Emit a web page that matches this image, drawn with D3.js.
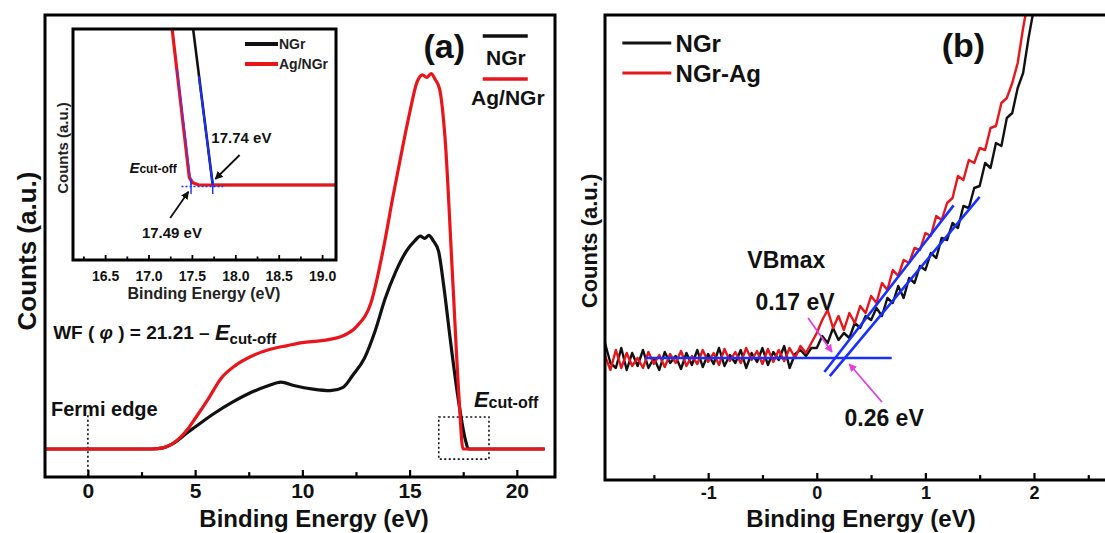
<!DOCTYPE html>
<html>
<head>
<meta charset="utf-8">
<script src="https://cdn.jsdelivr.net/npm/d3@7"></script>
<style>
  body { margin: 0; background: #fff; }
  svg { display: block; font-family: "Liberation Sans", Arial, sans-serif; font-weight: bold; }
</style>
</head>
<body>
<svg id="chart" width="1105" height="533"></svg>
<script>
// ---------- (a) full UPS spectra ----------
const agEnergy = [-2, 3, 3.5, 3.9, 4.3, 4.6, 5, 5.6, 6.2, 6.9, 7.6, 8.5, 9.3, 10, 10.9, 11.9, 12.5, 13.2, 13.85, 14.2,
  14.7, 15, 15.35, 15.6, 15.8, 16, 16.2, 16.4, 16.65, 17, 17.3, 17.49, 21.3];
const agCounts = [0, 0, 0.03, 0.125, 0.3, 0.49, 0.81, 1.32, 1.87, 2.23, 2.46, 2.65, 2.75, 2.83, 2.88, 3.01, 3.24, 3.89, 5.54, 6.64,
  8.10, 8.93, 9.76, 9.95, 9.88, 9.98, 9.82, 9.57, 8.29, 4.62, 1.41, 0, 0];
const ngrEnergy = [-2, 3, 3.5, 3.9, 4.3, 4.6, 5, 5.9, 6.7, 7.6, 8.4, 9, 9.65, 10.5, 11.3, 11.9, 12.35, 12.9, 13.4, 13.85,
  14.35, 14.85, 15.25, 15.5, 15.7, 15.9, 16.1, 16.35, 16.6, 16.9, 17.25, 17.6, 17.74, 21.3];
const ngrCounts = [0, 0, 0.03, 0.12, 0.28, 0.42, 0.585, 0.95, 1.23, 1.5, 1.68, 1.78, 1.68, 1.59, 1.55, 1.64, 1.96, 2.42, 3.15, 3.98,
  4.71, 5.26, 5.54, 5.66, 5.6, 5.68, 5.54, 5.26, 4.3, 2.9, 1.4, 0.25, 0, 0];

// inset: secondary electron cut-off
const insetAgEnergy = [17.25, 17.47, 17.51, 17.58, 19.3];
const insetAgCounts = [2.3, 0.1, 0.03, 0, 0];
const insetNgrEnergy = [17.49, 17.74, 19.3];
const insetNgrCounts = [2.3, 0, 0];
const cutoffAg = 17.49;
const cutoffNgr = 17.74;

// ---------- (b) valence band edge ----------
const vbEnergy = [-1.95, -1.90, -1.85, -1.80, -1.75, -1.70, -1.65, -1.60, -1.55, -1.50, -1.45, -1.40, -1.35,
  -1.30, -1.25, -1.20, -1.15, -1.10, -1.05, -1.00, -0.95, -0.90, -0.85, -0.80, -0.75, -0.70, -0.65, -0.60,
  -0.55, -0.50, -0.45, -0.40, -0.35, -0.30, -0.25, -0.20, -0.15, -0.10, -0.05,
  0.00, 0.05, 0.10, 0.15, 0.20, 0.25, 0.30, 0.35, 0.40, 0.45, 0.50, 0.55, 0.60, 0.65, 0.70, 0.75, 0.80,
  0.85, 0.90, 0.95, 1.00, 1.05, 1.10, 1.15, 1.20, 1.25, 1.30, 1.35, 1.40, 1.45, 1.50, 1.55, 1.60, 1.65,
  1.70, 1.75, 1.80, 1.85, 1.90, 1.95, 2.00];
const vbAgCounts = [0.02, -0.12, 0.08, -0.1, 0.05, -0.08, 0.0, -0.1, 0.06, -0.06, 0.03, -0.09, 0.04,
  -0.05, 0.07, -0.08, 0.02, -0.06, 0.08, -0.04, 0.05, -0.07, 0.09, -0.03, 0.06, -0.05, 0.1, -0.02,
  0.07, -0.06, 0.09, -0.04, 0.08, -0.03, 0.1, 0.0, 0.12, 0.05, 0.15,
  0.25, 0.38, 0.48, 0.3, 0.42, 0.28, 0.45, 0.35, 0.52, 0.45, 0.62, 0.55, 0.75, 0.68, 0.88, 0.82, 0.98,
  0.95, 1.1, 1.08, 1.25, 1.22, 1.42, 1.38, 1.55, 1.6, 1.82, 1.78, 1.98, 1.95, 2.1, 2.08, 2.3, 2.32,
  2.55, 2.6, 2.75, 2.95, 3.3, 3.6, 3.9];
const vbNgrCounts = [0.15, -0.05, -0.1, 0.1, -0.12, 0.05, -0.08, 0.08, -0.1, 0.0, -0.12, 0.06, -0.05,
  0.02, -0.11, 0.05, -0.07, 0.08, -0.09, 0.04, -0.06, 0.1, -0.08, 0.03, -0.05, 0.08, -0.1, 0.05,
  -0.04, 0.1, -0.07, 0.06, -0.02, 0.12, -0.1, 0.04, 0.08, 0.02, 0.1,
  0.1, 0.22, 0.15, 0.3, 0.18, 0.25, 0.2, 0.35, 0.3, 0.42, 0.38, 0.5, 0.42, 0.6, 0.55, 0.72, 0.6,
  0.8, 0.75, 0.92, 0.88, 1.05, 1.0, 1.2, 1.18, 1.35, 1.3, 1.52, 1.5, 1.7, 1.72, 1.95, 1.9, 2.15,
  2.12, 2.4, 2.45, 2.7, 2.85, 3.2, 3.5];
// linear extrapolations of the leading edge
const vbBaseFit = [[-1.58, 0], [0.69, 0]];
const vbAgFit = [[0.07, -0.14], [1.26, 1.526]];
const vbNgrFit = [[0.12, -0.182], [1.5, 1.612]];
const vbmAg = 0.17;
const vbmNgr = 0.26;

// ticks
const aTicks = [0, 5, 10, 15, 20];
const aMinor = [2.5, 7.5, 12.5, 17.5];
const insetTicks = [16.5, 17, 17.5, 18, 18.5, 19];
const insetMinor = [16.25, 16.75, 17.25, 17.75, 18.25, 18.75];
const bTicks = [-1, 0, 1, 2];
const bMinor = [-1.5, -0.5, 0.5, 1.5, 2.5];

const RED = "#e8151b", BLACK = "#111", BLUE = "#1730ff", MAGENTA = "#e040e0";

const svg = d3.select("#chart");
svg.append("rect").attr("width", 1105).attr("height", 533).attr("fill", "#fff");

const defs = svg.append("defs");
function marker(id, color) {
  defs.append("marker").attr("id", id)
    .attr("viewBox", "0 0 10 10").attr("refX", 9).attr("refY", 5)
    .attr("markerWidth", 8).attr("markerHeight", 8).attr("markerUnits", "userSpaceOnUse")
    .attr("orient", "auto")
    .append("path").attr("d", "M0,0 L10,5 L0,10 z").attr("fill", color);
}
marker("arrowBlack", BLACK);
marker("arrowMagenta", MAGENTA);

function clipFor(id, x, y) {
  defs.append("clipPath").attr("id", id).append("rect")
    .attr("x", x.range()[0]).attr("y", y.range()[1])
    .attr("width", x.range()[1] - x.range()[0]).attr("height", y.range()[0] - y.range()[1]);
  return `url(#${id})`;
}

function frame(x, y, w) {
  svg.append("rect")
    .attr("x", x.range()[0]).attr("y", y.range()[1])
    .attr("width", x.range()[1] - x.range()[0]).attr("height", y.range()[0] - y.range()[1])
    .attr("fill", "none").attr("stroke", "#000").attr("stroke-width", w);
}

function bottomAxis(x, y, major, minor, fmt, fontSize, pad, len, width) {
  const g = svg.append("g").attr("transform", `translate(0,${y.range()[0]})`);
  g.call(d3.axisBottom(x).tickValues(major).tickSize(-len).tickPadding(pad).tickFormat(fmt));
  g.append("g").call(d3.axisBottom(x).tickValues(minor).tickSize(-len * 0.7).tickFormat(""));
  g.selectAll(".domain").remove();
  g.selectAll("line").attr("stroke", "#000").attr("stroke-width", width);
  g.attr("font-family", null).attr("font-size", null);
  g.selectAll("text").attr("fill", BLACK).style("font-size", fontSize + "px");
}

const pairs = (xs, ys) => xs.map((v, i) => [v, ys[i]]);

function drawLine(x, y, data, color, width, curve, clip) {
  svg.append("path").datum(data)
    .attr("clip-path", clip)
    .attr("fill", "none").attr("stroke", color).attr("stroke-width", width)
    .attr("stroke-linejoin", "round")
    .attr("d", d3.line().x(d => x(d[0])).y(d => y(d[1])).curve(curve || d3.curveLinear));
}

function arrow(x, y, from, to, color, id, width) {
  svg.append("line")
    .attr("x1", x(from[0])).attr("y1", y(from[1]))
    .attr("x2", x(to[0])).attr("y2", y(to[1]))
    .attr("stroke", color).attr("stroke-width", width)
    .attr("marker-end", `url(#${id})`);
}

function label(x, y, at, text, size, anchor) {
  return svg.append("text")
    .attr("x", x(at[0])).attr("y", y(at[1]))
    .attr("text-anchor", anchor || "start")
    .attr("dominant-baseline", "central")
    .attr("fill", BLACK).style("font-size", size + "px")
    .text(text);
}

// ================= panel (a) =================
const xA = d3.scaleLinear().domain([-2, 21.78]).range([45, 555]);
const yA = d3.scaleLinear().domain([-0.745, 11.54]).range([477, 15]);
const clipA = clipFor("clipA", xA, yA);

// Fermi edge marker
svg.append("line")
  .attr("x1", xA(0)).attr("x2", xA(0)).attr("y1", yA(0.9)).attr("y2", yA(-0.745))
  .attr("stroke", BLACK).attr("stroke-width", 1.6).attr("stroke-dasharray", "2,2.5");

// zoom window around the cut-off
svg.append("rect")
  .attr("x", xA(16.36)).attr("y", yA(0.85))
  .attr("width", xA(18.7) - xA(16.36)).attr("height", yA(-0.27) - yA(0.85))
  .attr("fill", "none").attr("stroke", BLACK).attr("stroke-width", 1.6).attr("stroke-dasharray", "2,2.5");

drawLine(xA, yA, pairs(ngrEnergy, ngrCounts), BLACK, 3.2, d3.curveMonotoneX, clipA);
drawLine(xA, yA, pairs(agEnergy, agCounts), RED, 3.2, d3.curveMonotoneX, clipA);

frame(xA, yA, 3);
bottomAxis(xA, yA, aTicks, aMinor, d3.format("d"), 21, 6, 7, 2.2);

svg.append("text").attr("x", 314).attr("y", 527).attr("text-anchor", "middle")
  .style("font-size", "24px").attr("fill", BLACK).text("Binding Energy (eV)");
svg.append("text").attr("transform", "translate(27,251) rotate(-90)")
  .attr("text-anchor", "middle").attr("dominant-baseline", "central")
  .style("font-size", "26px").attr("fill", BLACK).text("Counts (a.u.)");

label(xA, yA, [-1.72, 1.06], "Fermi edge", 20);

const ecut = label(xA, yA, [18.0, 1.33], "", 22);
ecut.append("tspan").style("font-style", "italic").text("E");
ecut.append("tspan").style("font-size", "16px").attr("dy", 3).text("cut-off");

const wf = label(xA, yA, [-1.62, 3.11], "WF (", 19);
wf.append("tspan").style("font-style", "italic").text(" \u03c6 ");
wf.append("tspan").text(") = 21.21 \u2013 ");
wf.append("tspan").style("font-style", "italic").style("font-size", "22px").text("E");
wf.append("tspan").style("font-size", "15px").attr("dy", 6).text("cut-off");

label(xA, yA, [16.62, 10.72], "(a)", 34, "middle");
svg.append("line").attr("x1", xA(18.41)).attr("x2", xA(20.51)).attr("y1", yA(10.98)).attr("y2", yA(10.98))
  .attr("stroke", BLACK).attr("stroke-width", 3.5);
label(xA, yA, [19.49, 10.4], "NGr", 21, "middle");
svg.append("line").attr("x1", xA(18.41)).attr("x2", xA(20.51)).attr("y1", yA(9.84)).attr("y2", yA(9.84))
  .attr("stroke", RED).attr("stroke-width", 3.5);
label(xA, yA, [19.58, 9.34], "Ag/NGr", 21, "middle");

// ================= inset =================
const xI = d3.scaleLinear().domain([16.13, 19.16]).range([73, 336]);
const yI = d3.scaleLinear().domain([-1, 2.08]).range([260, 29]);
const clipI = clipFor("clipI", xI, yI);

svg.append("rect").attr("x", 73).attr("y", 29).attr("width", 263).attr("height", 231).attr("fill", "#fff");

drawLine(xI, yI, pairs(insetNgrEnergy, insetNgrCounts), BLACK, 2.6, d3.curveLinear, clipI);
drawLine(xI, yI, pairs(insetAgEnergy, insetAgCounts), RED, 3.2, d3.curveLinear, clipI);

// edge extrapolations
drawLine(xI, yI, [[cutoffNgr - 0.16, 1.45], [cutoffNgr, 0]], BLUE, 2, d3.curveLinear, clipI);
drawLine(xI, yI, [[cutoffAg - 0.16, 1.55], [cutoffAg, 0]], "#6a2fd0", 1.4, d3.curveLinear, clipI);
svg.append("line").attr("x1", xI(17.38)).attr("x2", xI(17.86)).attr("y1", yI(-0.02)).attr("y2", yI(-0.02))
  .attr("stroke", BLUE).attr("stroke-width", 1.4).attr("stroke-dasharray", "2,2");
[cutoffAg, cutoffNgr].forEach(e => {
  svg.append("line").attr("x1", xI(e)).attr("x2", xI(e)).attr("y1", yI(0.07)).attr("y2", yI(-0.12))
    .attr("stroke", BLUE).attr("stroke-width", 1.4);
});

frame(xI, yI, 3);
bottomAxis(xI, yI, insetTicks, insetMinor, d3.format(".1f"), 14, 11, 5, 1.8);

svg.append("text").attr("x", 204).attr("y", 299).attr("text-anchor", "middle")
  .style("font-size", "16px").attr("fill", "#222").text("Binding Energy (eV)");
svg.append("text").attr("transform", "translate(62,148) rotate(-90)")
  .attr("text-anchor", "middle").attr("dominant-baseline", "central")
  .style("font-size", "15px").attr("fill", "#222").text("Counts (a.u.)");

// inset legend
svg.append("line").attr("x1", 245).attr("x2", 278).attr("y1", 44).attr("y2", 44)
  .attr("stroke", BLACK).attr("stroke-width", 4);
svg.append("text").attr("x", 279).attr("y", 44).attr("dominant-baseline", "central")
  .style("font-size", "14px").attr("fill", "#222").text("NGr");
svg.append("line").attr("x1", 245).attr("x2", 278).attr("y1", 64).attr("y2", 64)
  .attr("stroke", RED).attr("stroke-width", 4);
svg.append("text").attr("x", 279).attr("y", 64).attr("dominant-baseline", "central")
  .style("font-size", "14px").attr("fill", "#222").text("Ag/NGr");

label(xI, yI, [18.07, 0.63], "17.74 eV", 15, "middle");
arrow(xI, yI, [18.05, 0.4], [cutoffNgr + 0.03, 0.08], BLACK, "arrowBlack", 1.8);
label(xI, yI, [17.27, -0.63], "17.49 eV", 15, "middle");
arrow(xI, yI, [17.25, -0.44], [cutoffAg - 0.03, -0.09], BLACK, "arrowBlack", 1.8);
const ecutI = label(xI, yI, [16.78, 0.24], "", 15);
ecutI.append("tspan").style("font-style", "italic").text("E");
ecutI.append("tspan").style("font-size", "12px").attr("dy", 2).text("cut-off");

// ================= panel (b) =================
const xB = d3.scaleLinear().domain([-1.95, 2.7]).range([605, 1110]);
const yB = d3.scaleLinear().domain([-1.22, 3.43]).range([480, 15]);
const clipB = clipFor("clipB", xB, yB);

drawLine(xB, yB, pairs(vbEnergy, vbNgrCounts), BLACK, 2.4, d3.curveLinear, clipB);
drawLine(xB, yB, pairs(vbEnergy, vbAgCounts), RED, 2.4, d3.curveLinear, clipB);

drawLine(xB, yB, vbBaseFit, BLUE, 2.6, d3.curveLinear, clipB);
drawLine(xB, yB, vbAgFit, BLUE, 2.6, d3.curveLinear, clipB);
drawLine(xB, yB, vbNgrFit, BLUE, 2.6, d3.curveLinear, clipB);

frame(xB, yB, 3);
// plain hyphen for negative labels
bottomAxis(xB, yB, bTicks, bMinor, d => String(d), 18, 6, 7, 2.2);

svg.append("text").attr("x", 861).attr("y", 527).attr("text-anchor", "middle")
  .style("font-size", "24px").attr("fill", BLACK).text("Binding Energy (eV)");
svg.append("text").attr("transform", "translate(589,241) rotate(-90)")
  .attr("text-anchor", "middle").attr("dominant-baseline", "central")
  .style("font-size", "22px").attr("fill", BLACK).text("Counts (a.u.)");

label(xB, yB, [1.35, 3.13], "(b)", 34, "middle");
svg.append("line").attr("x1", xB(-1.79)).attr("x2", xB(-1.34)).attr("y1", yB(3.15)).attr("y2", yB(3.15))
  .attr("stroke", BLACK).attr("stroke-width", 3);
label(xB, yB, [-1.3, 3.15], "NGr", 24);
svg.append("line").attr("x1", xB(-1.79)).attr("x2", xB(-1.34)).attr("y1", yB(2.85)).attr("y2", yB(2.85))
  .attr("stroke", RED).attr("stroke-width", 3);
label(xB, yB, [-1.3, 2.85], "NGr-Ag", 24);

label(xB, yB, [-0.28, 0.98], "VBmax", 23, "middle");
label(xB, yB, [-0.2, 0.56], vbmAg.toFixed(2) + " eV", 23, "middle");
arrow(xB, yB, [-0.08, 0.40], [vbmAg - 0.03, 0.06], MAGENTA, "arrowMagenta", 1.8);
label(xB, yB, [0.62, -0.6], vbmNgr.toFixed(2) + " eV", 23, "middle");
arrow(xB, yB, [0.6, -0.44], [vbmNgr + 0.04, -0.06], MAGENTA, "arrowMagenta", 1.8);
</script>
</body>
</html>
